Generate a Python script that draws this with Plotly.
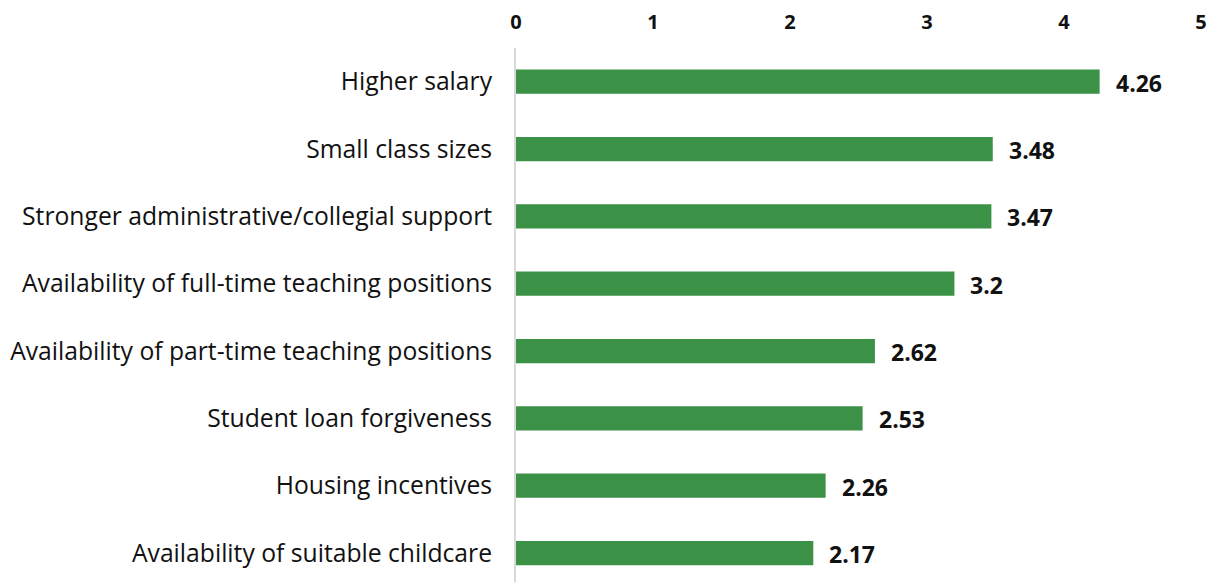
import plotly.graph_objects as go

categories = [
    "Higher salary",
    "Small class sizes",
    "Stronger administrative/collegial support",
    "Availability of full-time teaching positions",
    "Availability of part-time teaching positions",
    "Student loan forgiveness",
    "Housing incentives",
    "Availability of suitable childcare",
]
values = [4.26, 3.48, 3.47, 3.2, 2.62, 2.53, 2.26, 2.17]
x_ticks = [0, 1, 2, 3, 4, 5]

FONT = "Open Sans"
fig = go.Figure()
fig.add_trace(go.Bar(
    y=categories, x=values, orientation="h",
    marker=dict(color="#3b9246", line=dict(width=0)),
    width=0.36,
    hoverinfo="x+y",
))
for c, v in zip(categories, values):
    fig.add_annotation(x=v, y=c, text=f"<b>{v:g}</b>", showarrow=False,
                       xanchor="left", xshift=14, yshift=-1,
                       font=dict(family=FONT, size=23, color="#111111"))

fig.update_layout(
    width=1209, height=574,
    margin=dict(l=508, r=16, t=40, b=0),
    plot_bgcolor="white", paper_bgcolor="white",
    showlegend=False,
    font=dict(family=FONT, size=22, color="#111111"),
    xaxis=dict(side="top", range=[0, 5], tickvals=x_ticks,
               ticktext=[f"<b>{t}</b>" for t in x_ticks],
               showgrid=False, zeroline=False, showline=False,
               automargin=False,
               tickfont=dict(size=20, color="#111111"),
               ticks="outside", ticklen=10, tickcolor="rgba(0,0,0,0)"),
    yaxis=dict(categoryorder="array", categoryarray=categories,
               range=[7.43, -0.5], showgrid=False, zeroline=False,
               automargin=False,
               showline=True, linecolor="#d9d9d9", linewidth=2,
               ticks="outside", ticklen=17, tickcolor="rgba(0,0,0,0)",
               tickfont=dict(size=24.7, color="#111111")),
)
fig.write_html("out.html")
